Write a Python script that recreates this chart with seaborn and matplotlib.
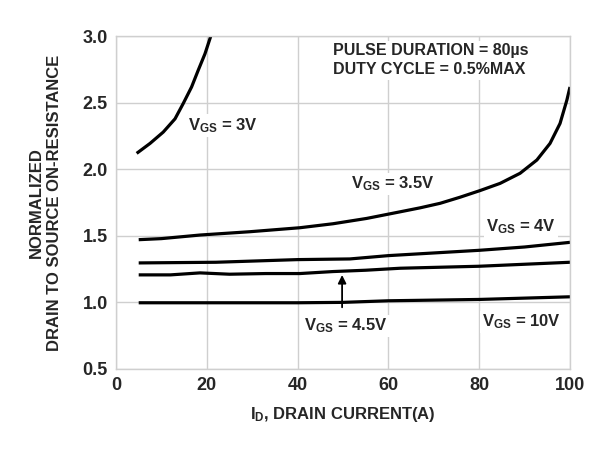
import matplotlib
matplotlib.use("Agg")
import matplotlib.pyplot as plt
import seaborn as sns
import pandas as pd

# ---- data ----
x_3v = [4.55, 7.5, 10.4, 13.0, 14.8, 16.65, 18.1, 19.6, 20.8, 21.0]
y_3v = [2.12, 2.195, 2.28, 2.38, 2.495, 2.62, 2.745, 2.87, 2.995, 3.02]

x_35v = [5, 10, 18.5, 29.5, 40.5, 47.8, 55.2, 62.6, 67, 71.4, 75.8, 80.2, 84.6, 89.0,
         92.7, 95.6, 97.8, 99.3, 100]
y_35v = [1.47, 1.478, 1.505, 1.53, 1.56, 1.59, 1.63, 1.68, 1.71, 1.744, 1.79, 1.84, 1.894,
         1.97, 2.07, 2.195, 2.345, 2.52, 2.62]

x_4v = [5, 22, 40, 51.5, 60, 70, 80, 90, 100]
y_4v = [1.295, 1.30, 1.32, 1.325, 1.35, 1.37, 1.39, 1.415, 1.45]

x_45v = [5, 12, 18.5, 25, 33, 40.5, 47.8, 55, 62.6, 80, 90, 100]
y_45v = [1.205, 1.205, 1.22, 1.21, 1.215, 1.215, 1.23, 1.24, 1.255, 1.27, 1.285, 1.30]

x_10v = [5, 40, 50, 60, 80, 100]
y_10v = [0.995, 0.995, 0.998, 1.01, 1.02, 1.04]

series = {"3V": (x_3v, y_3v), "3.5V": (x_35v, y_35v), "4V": (x_4v, y_4v),
          "4.5V": (x_45v, y_45v), "10V": (x_10v, y_10v)}

x_ticks = [0, 20, 40, 60, 80, 100]
y_ticks = [0.5, 1.0, 1.5, 2.0, 2.5, 3.0]

rows = []
for name, (xs, ys) in series.items():
    for xv, yv in zip(xs, ys):
        rows.append({"vgs": name, "id": xv, "r": yv})
df = pd.DataFrame(rows)

sns.set_theme(style="white")
plt.rcParams["font.family"] = ["Liberation Sans", "DejaVu Sans"]
plt.rcParams["font.weight"] = "bold"
plt.rcParams["mathtext.fontset"] = "custom"
plt.rcParams["mathtext.rm"] = "Liberation Sans:bold"
plt.rcParams["mathtext.it"] = "Liberation Sans:bold"
plt.rcParams["mathtext.bf"] = "Liberation Sans:bold"

fig = plt.figure(figsize=(5.97, 4.5), dpi=100)
ax = fig.add_axes([0.1943, 0.1811, 0.7605, 0.7378])
ax.set_clip_on(True)

sns.lineplot(data=df, x="id", y="r", units="vgs", estimator=None, sort=False,
             color="black", linewidth=2.3, ax=ax, legend=False)
for ln in ax.get_lines():
    ln.set_solid_joinstyle("round")
    ln.set_solid_capstyle("butt")

ax.set_xlim(0, 100)
ax.set_ylim(0.5, 3.0)
ax.set_xticks(x_ticks)
ax.set_xticklabels([str(t) for t in x_ticks])
ax.set_yticks(y_ticks)
ax.set_yticklabels([f"{t:.1f}" for t in y_ticks])
ax.tick_params(axis="both", length=0, labelsize=13, pad=6)
for lbl in ax.get_xticklabels() + ax.get_yticklabels():
    lbl.set_fontweight("bold")

ax.grid(True, color="#cfcfcf", linewidth=1.0)
ax.set_axisbelow(True)
for s in ax.spines.values():
    s.set_color("#cfcfcf")
    s.set_linewidth(1.0)

ax.set_xlabel(r"I$_\mathrm{D}$, DRAIN CURRENT(A)", fontsize=12, fontweight="bold", labelpad=8)
ax.set_ylabel("NORMALIZED\nDRAIN TO SOURCE ON-RESISTANCE", fontsize=12,
              fontweight="bold", labelpad=15, linespacing=1.2)

box = dict(facecolor="white", edgecolor="none", pad=1.5)
ax.text(47.8, 2.82, "PULSE DURATION = 80\u00b5s\nDUTY CYCLE = 0.5%MAX", fontsize=11.5,
        fontweight="bold", ha="left", va="center", linespacing=1.35, bbox=box)

lab = dict(fontsize=12, fontweight="bold", ha="left", va="center", bbox=box)
ax.text(15.8, 2.33, r"V$_\mathrm{GS}$ = 3V", **lab)
ax.text(51.8, 1.89, r"V$_\mathrm{GS}$ = 3.5V", **lab)
ax.text(81.5, 1.57, r"V$_\mathrm{GS}$ = 4V", **lab)
ax.text(41.5, 0.82, r"V$_\mathrm{GS}$ = 4.5V", **lab)
ax.text(80.6, 0.85, r"V$_\mathrm{GS}$ = 10V", **lab)

ax.annotate("", xy=(49.8, 1.225), xytext=(49.8, 0.94),
            arrowprops=dict(arrowstyle="-|>", color="black", lw=1.3, mutation_scale=12))

fig.savefig("out.png", dpi=100, facecolor="white")
